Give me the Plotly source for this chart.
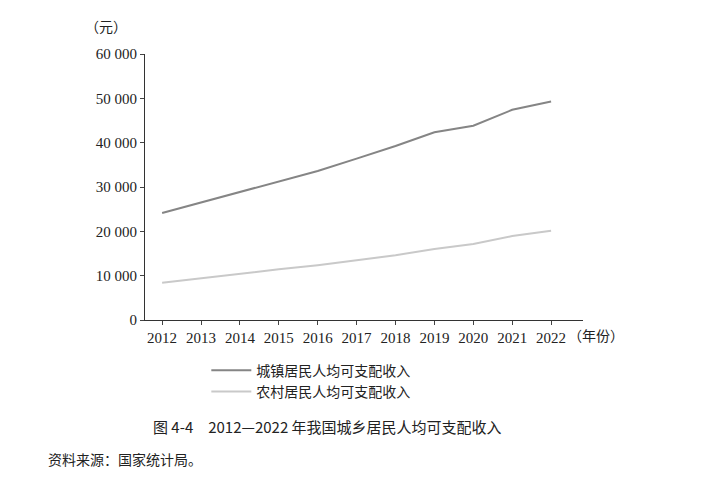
import plotly.graph_objects as go

years = list(range(2012, 2023))
urban = [24127, 26467, 28844, 31195, 33616, 36396, 39251, 42359, 43834, 47412, 49283]
rural = [8389, 9430, 10489, 11422, 12363, 13432, 14617, 16021, 17131, 18931, 20133]
ytick_vals = [0, 10000, 20000, 30000, 40000, 50000, 60000]
ytick_text = ["0", "10 000", "20 000", "30 000", "40 000", "50 000", "60 000"]

serif = "Liberation Serif"
cjk = "Noto Sans CJK SC"

fig = go.Figure()
fig.add_trace(go.Scatter(x=years, y=urban, mode="lines", name="城镇居民人均可支配收入",
                         line=dict(color="#858585", width=2)))
fig.add_trace(go.Scatter(x=years, y=rural, mode="lines", name="农村居民人均可支配收入",
                         line=dict(color="#c9c9c9", width=2)))

fig.update_layout(
    width=720, height=494, paper_bgcolor="white", plot_bgcolor="white",
    margin=dict(l=137, r=145, t=46, b=182, autoexpand=False),
    font=dict(family=cjk, size=14, color="#222"),
    xaxis=dict(range=[2011.56, 2022.82], tickvals=years, ticks="outside", ticklen=4,
               showline=True, linecolor="#333", linewidth=1, showgrid=False, zeroline=False,
               tickfont=dict(family=serif, size=15, color="#222")),
    yaxis=dict(range=[0, 60000], tickvals=ytick_vals, ticktext=ytick_text, ticks="outside",
               ticklen=4, showline=True, linecolor="#333", linewidth=1, showgrid=False,
               zeroline=False, tickfont=dict(family=serif, size=15, color="#222")),
    legend=dict(x=0.14, y=-0.13, xanchor="left", yanchor="top", tracegroupgap=2,
                font=dict(family=cjk, size=14, color="#222"), itemwidth=40,
                bgcolor="rgba(0,0,0,0)"),
    annotations=[
        dict(text="（元）", x=0, xref="paper", y=1, yref="paper", xshift=-62, yshift=28,
             showarrow=False, xanchor="left", yanchor="middle", font=dict(size=14)),
        dict(text="（年份）", x=1, xref="paper", y=0, yref="paper", xshift=-17, yshift=-15,
             showarrow=False, xanchor="left", yanchor="middle", font=dict(size=14)),
        dict(text="图 4-4　2012—2022 年我国城乡居民人均可支配收入", x=300/720+0.0, xref="paper",
             y=0, yref="paper", yshift=-106, showarrow=False, xanchor="center",
             yanchor="middle", font=dict(size=15)),
        dict(text="资料来源：国家统计局。", x=0, xref="paper", y=0, yref="paper",
             xshift=-99, yshift=-139, showarrow=False, xanchor="left", yanchor="middle",
             font=dict(size=14)),
    ],
)
fig.write_html("out.html")
